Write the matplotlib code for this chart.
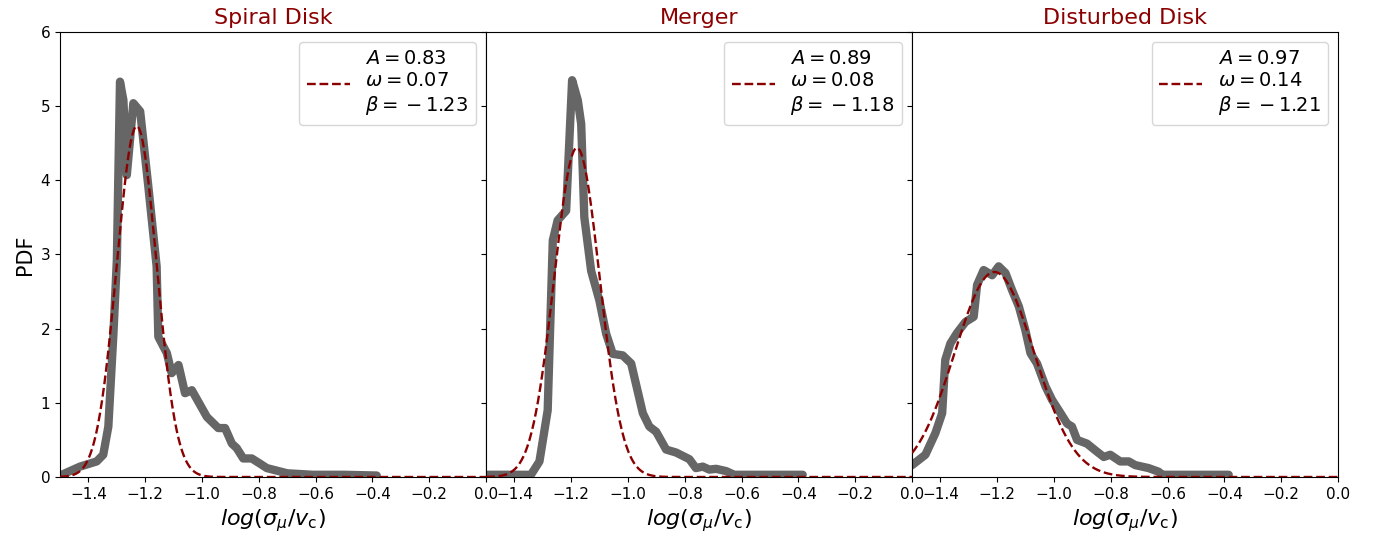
import numpy as np
import matplotlib
matplotlib.use("Agg")
import matplotlib.pyplot as plt

titles = ["Spiral Disk", "Merger", "Disturbed Disk"]

# Gaussian fit parameters (A, omega, beta) from the legends
amp = [0.83, 0.89, 0.97]
omega = [0.07, 0.08, 0.14]
beta = [-1.23, -1.18, -1.21]

spiral_x = [-1.494, -1.43, -1.371, -1.348, -1.33, -1.312, -1.30, -1.289, -1.277, -1.265,
            -1.242, -1.218, -1.189, -1.16, -1.154, -1.124, -1.107, -1.083, -1.06, -1.036,
            -0.983, -0.943, -0.919, -0.895, -0.878, -0.855, -0.825, -0.796, -0.772, -0.70,
            -0.61, -0.50, -0.385]
spiral_y = [0.03, 0.14, 0.21, 0.30, 0.68, 1.94, 2.93, 5.33, 5.08, 4.07,
            5.04, 4.93, 3.91, 2.84, 1.89, 1.67, 1.40, 1.51, 1.13, 1.17,
            0.81, 0.66, 0.66, 0.45, 0.39, 0.25, 0.25, 0.18, 0.12, 0.05,
            0.03, 0.03, 0.02]

merger_x = [-1.494, -1.342, -1.312, -1.283, -1.265, -1.248, -1.218, -1.197, -1.177, -1.165,
            -1.154, -1.130, -1.101, -1.077, -1.054, -1.019, -0.989, -0.948, -0.925, -0.901,
            -0.866, -0.831, -0.784, -0.761, -0.737, -0.714, -0.690, -0.655, -0.626, -0.50,
            -0.385]
merger_y = [0.03, 0.03, 0.21, 0.90, 3.19, 3.46, 3.59, 5.35, 5.08, 4.76,
            3.50, 2.78, 2.38, 1.93, 1.66, 1.64, 1.53, 0.86, 0.68, 0.61,
            0.37, 0.33, 0.24, 0.12, 0.14, 0.10, 0.11, 0.08, 0.03, 0.03,
            0.03]

disturbed_x = [-1.50, -1.453, -1.418, -1.394, -1.383, -1.365, -1.342, -1.312, -1.283, -1.271,
               -1.248, -1.218, -1.195, -1.171, -1.148, -1.124, -1.101, -1.083, -1.060, -1.030,
               -1.007, -0.977, -0.954, -0.937, -0.919, -0.884, -0.855, -0.825, -0.802, -0.767,
               -0.737, -0.714, -0.667, -0.631, -0.62, -0.385]
disturbed_y = [0.16, 0.30, 0.59, 0.86, 1.58, 1.80, 1.94, 2.09, 2.16, 2.59,
               2.79, 2.72, 2.84, 2.75, 2.52, 2.30, 1.98, 1.67, 1.53, 1.22,
               1.04, 0.86, 0.72, 0.68, 0.50, 0.45, 0.36, 0.27, 0.30, 0.21,
               0.21, 0.16, 0.12, 0.07, 0.03, 0.03]

data_x = [spiral_x, merger_x, disturbed_x]
data_y = [spiral_y, merger_y, disturbed_y]

fig, axes = plt.subplots(1, 3, figsize=(13.84, 5.41), dpi=100, sharey=True)
fig.subplots_adjust(left=0.0434, right=0.9668, bottom=0.1183, top=0.9409, wspace=0)

xx = np.linspace(-1.5, 0.0, 600)
for i, ax in enumerate(axes):
    ax.plot(data_x[i], data_y[i], color="#666666", lw=6, solid_joinstyle="round",
            solid_capstyle="round", zorder=2)
    g = amp[i] / (omega[i] * np.sqrt(2 * np.pi)) * np.exp(-(xx - beta[i]) ** 2 / (2 * omega[i] ** 2))
    lab = "$A=%.2f$\n$\\omega=%.2f$\n$\\beta={}%.2f$" % (amp[i], omega[i], beta[i])
    ax.plot(xx, g, color="#8b0000", ls="--", lw=1.7, label=lab, zorder=3)
    ax.set_xlim(-1.5, 0.0)
    ax.set_ylim(0, 6)
    ax.set_xticks([-1.4, -1.2, -1.0, -0.8, -0.6, -0.4, -0.2, 0.0])
    ax.tick_params(labelsize=11)
    ax.set_title(titles[i], color="#8b0000", fontsize=16)
    ax.set_xlabel(r"$log(\sigma_{\mu}/v_{\rm c})$", fontsize=16)
    ax.legend(loc="upper right", fontsize=14, handlelength=2.2)
    if i > 0:
        ax.tick_params(labelleft=False)

axes[0].set_ylabel("PDF", fontsize=15)

fig.savefig("out.png", dpi=100)
